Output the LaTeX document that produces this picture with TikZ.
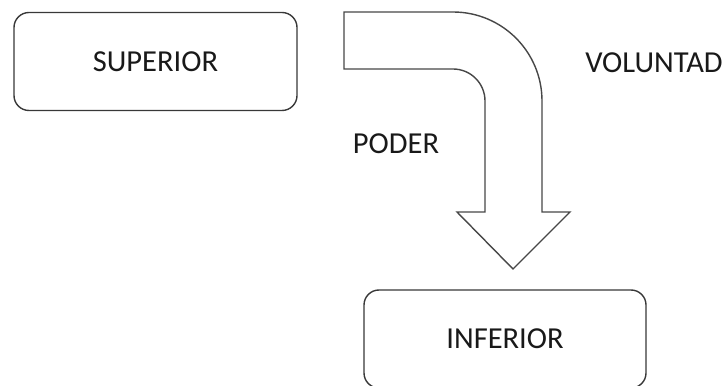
\documentclass[tikz,border=0pt]{standalone}
\usepackage{fontspec}
\setmainfont{Carlito}
\begin{document}
\begin{tikzpicture}[x=1pt,y=1pt,
  lbl/.style={font=\fontsize{30.5}{36}\selectfont, text=black!90, inner sep=0pt},
  roundbox/.style={draw=black!78, line width=1.4pt, rounded corners=15pt, minimum width=283pt, minimum height=98pt, inner sep=0pt, lbl},
  blockarrow/.style={draw=black!72, line width=1.4pt, fill=white, line join=miter}]
\useasboundingbox (0,0) rectangle (727,385);
\node[roundbox] (sup) at (155.5,323.5) {SUPERIOR};
\node[roundbox, minimum width=282pt] (inf) at (505,46) {INFERIOR};
\node[lbl] (vol) at (654,322) {VOLUNTAD};
\node[lbl] (poder) at (396,241) {PODER};
\draw[blockarrow] (344,373) -- (453,373) arc[start angle=90,end angle=0,radius=89]
  -- (542,173) -- (570,173) -- (513,116) -- (457,173) -- (485,173) -- (485,284)
  arc[start angle=0,end angle=90,radius=32] -- (344,316) -- cycle;
\end{tikzpicture}
\end{document}
